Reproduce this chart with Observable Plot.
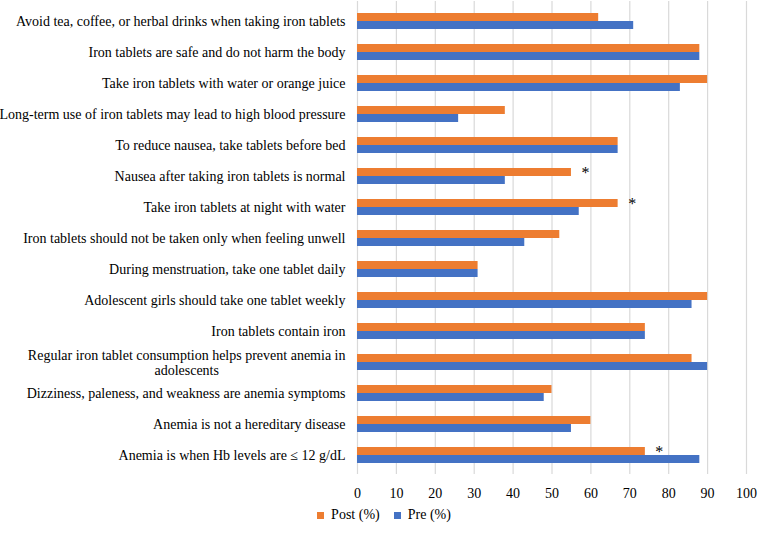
<!DOCTYPE html>
<html>
<head>
<meta charset="utf-8">
<script src="https://cdn.jsdelivr.net/npm/d3@7"></script>
<script src="https://cdn.jsdelivr.net/npm/@observablehq/plot@0.6"></script>
<style>
  html, body { margin: 0; padding: 0; background: #fff; }
  #chart { width: 760px; }
  #chart svg, #chart svg text, #legend, #legend * {
    font-family: "Liberation Serif", "Times New Roman", serif !important;
  }
  #legend { display: flex; justify-content: center; padding-left: 22px; }
  #legend, #legend * { font-size: 14px !important; color: #000 !important; }
  #legend > div { min-height: 20px !important; }
</style>
</head>
<body>
<div id="chart"></div>
<div id="legend"></div>
<script>
// Knowledge items, listed top to bottom
const categories = [
  "Avoid tea, coffee, or herbal drinks when taking iron tablets",
  "Iron tablets are safe and do not harm the body",
  "Take iron tablets with water or orange juice",
  "Long-term use of iron tablets may lead to high blood pressure",
  "To reduce nausea, take tablets before bed",
  "Nausea after taking iron tablets is normal",
  "Take iron tablets at night with water",
  "Iron tablets should not be taken only when feeling unwell",
  "During menstruation, take one tablet daily",
  "Adolescent girls should take one tablet weekly",
  "Iron tablets contain iron",
  "Regular iron tablet consumption helps prevent anemia in adolescents",
  "Dizziness, paleness, and weakness are anemia symptoms",
  "Anemia is not a hereditary disease",
  "Anemia is when Hb levels are ≤ 12 g/dL"
];

// Percentage of correct answers after and before the intervention
const postValues = [62, 88, 90, 38, 67, 55, 67, 52, 31, 90, 74, 86, 50, 60, 74];
const preValues  = [71, 88, 83, 26, 67, 38, 57, 43, 31, 86, 74, 90, 48, 55, 88];

// Items with a significant change
const significantItems = [
  "Nausea after taking iron tablets is normal",
  "Take iron tablets at night with water",
  "Anemia is when Hb levels are ≤ 12 g/dL"
];

const xTicks = [0, 10, 20, 30, 40, 50, 60, 70, 80, 90, 100];
const seriesNames = ["Post (%)", "Pre (%)"];
const seriesColors = ["#ED7D31", "#4472C4"];

// Long tick labels broken over two lines
const wrappedLabels = {
  "Regular iron tablet consumption helps prevent anemia in adolescents":
    "Regular iron tablet consumption helps prevent anemia in\nadolescents"
};

const rows = categories.map((category, i) => ({
  category, post: postValues[i], pre: preValues[i]
}));
const starRows = rows.filter(d => significantItems.includes(d.category));

const font = "Liberation Serif";

const chart = Plot.plot({
  width: 760,
  height: 505,
  marginLeft: 357,
  marginRight: 14,
  marginTop: 1,
  marginBottom: 31,
  style: { fontFamily: font, fontSize: "14px", color: "#000", background: "#fff" },
  x: { domain: [0, 100] },
  y: { domain: categories, paddingInner: 0.49, paddingOuter: 0.27 },
  marks: [
    Plot.gridX(xTicks, { stroke: "#d9d9d9", strokeOpacity: 1, strokeWidth: 1.2 }),
    Plot.axisX(xTicks, { tickSize: 0, tickPadding: 14, label: null, fontSize: 14 }),
    Plot.axisY({
      tickSize: 0, tickPadding: 12, label: null, fontSize: 14, lineHeight: 1.1,
      tickFormat: d => wrappedLabels[d] ?? d
    }),
    Plot.barX(rows, { x: "post", y: "category", fill: seriesColors[0], insetBottom: 8 }),
    Plot.barX(rows, { x: "pre", y: "category", fill: seriesColors[1], insetTop: 8 }),
    Plot.text(starRows, {
      x: "post", y: "category", text: () => "*",
      dx: 14, dy: -4, fontSize: 16, fill: "#000"
    })
  ]
});
document.getElementById("chart").append(chart);

// Center the continuation line of wrapped tick labels under the first line
chart.querySelectorAll("text").forEach(t => {
  const spans = t.querySelectorAll("tspan");
  if (spans.length > 1) {
    const w = Math.max(...Array.from(spans, s => s.getComputedTextLength()));
    t.setAttribute("text-anchor", "middle");
    spans.forEach(s => s.setAttribute("x", -w / 2));
  }
});

const legend = Plot.legend({
  color: { domain: seriesNames, range: seriesColors },
  legend: "swatches",
  swatchSize: 7
});
document.getElementById("legend").append(legend);
</script>
</body>
</html>
